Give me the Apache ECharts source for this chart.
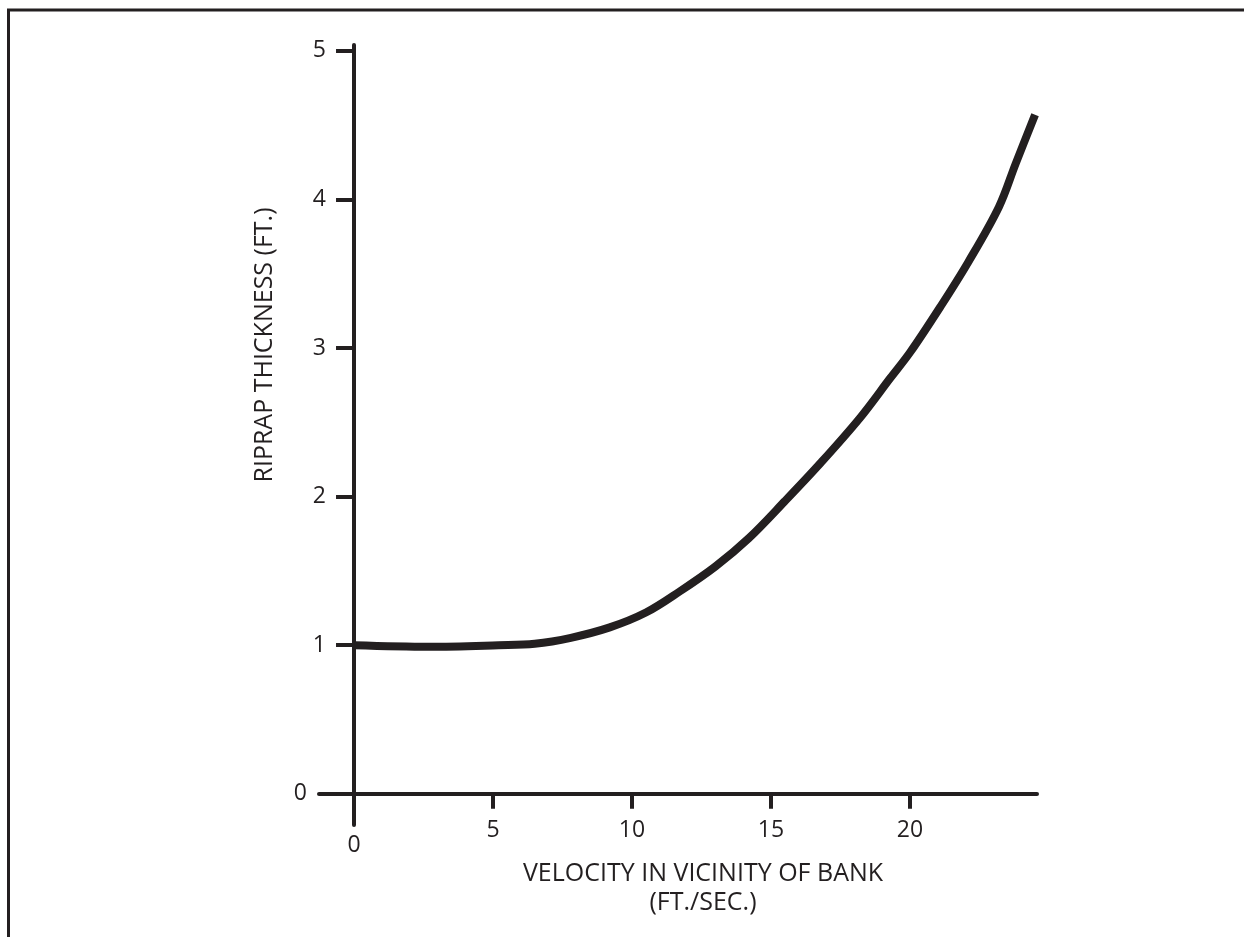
<!DOCTYPE html>
<html>
<head>
<meta charset="utf-8">
<title>Riprap thickness</title>
<script src="https://cdn.jsdelivr.net/npm/echarts@6/dist/echarts.min.js"></script>
<style>
    html, body { margin: 0; padding: 0; background: #fff; }
    #chart { width: 1244px; height: 937px; }
</style>
</head>
<body>
<div id="chart"></div>
<script>
// values
var velocity = [0, 2.7, 5.2, 6.5, 7.8, 9.2, 10.5, 11.7, 13.0, 14.2, 15.5, 16.8, 18.2, 19.3, 20.0, 21.1, 22.1, 23.2, 23.8, 24.5];
var thickness = [1.0, 0.99, 1.0, 1.01, 1.05, 1.12, 1.22, 1.36, 1.53, 1.72, 1.97, 2.23, 2.53, 2.8, 2.97, 3.28, 3.58, 3.95, 4.24, 4.57];
var xTicks = [0, 5, 10, 15, 20];
var yTicks = [0, 1, 2, 3, 4, 5];

var ink = '#231f20';
var font = '"Open Sans", Lato, sans-serif';

var points = [];
for (var i = 0; i < velocity.length; ++i) {
    points.push([velocity[i], thickness[i]]);
}

var chart = echarts.init(document.getElementById('chart'));
var option = {
    animation: false,
    grid: { left: 319, right: 207, top: 45, bottom: 112 },
    xAxis: {
        type: 'value',
        min: -1.26,
        max: 24.57,
        splitLine: { show: false },
        axisLine: { onZero: true, lineStyle: { color: ink, width: 4 } },
        axisTick: {
            customValues: [5, 10, 15, 20],
            length: 15,
            lineStyle: { color: ink, width: 4 }
        },
        axisLabel: {
            customValues: xTicks,
            margin: -6,
            color: ink,
            fontFamily: font,
            fontSize: 23,
            formatter: function (v) {
                return v === 0 ? '{z|0}' : String(v);
            },
            rich: { z: { padding: [15, 0, 0, 0], fontFamily: font, fontSize: 23, color: ink } }
        }
    },
    yAxis: {
        type: 'value',
        min: -0.21,
        max: 5.04,
        splitLine: { show: false },
        axisLine: { onZero: true, lineStyle: { color: ink, width: 4 } },
        axisTick: {
            customValues: yTicks,
            length: 18,
            lineStyle: { color: ink, width: 4 }
        },
        axisLabel: {
            customValues: yTicks,
            margin: -7,
            color: ink,
            fontFamily: font,
            fontSize: 23,
            formatter: function (v) {
                return v === 0 ? '{z|0}' : String(v);
            },
            rich: { z: { padding: [0, 19, 0, 0], fontFamily: font, fontSize: 23, color: ink } }
        }
    },
    graphic: [
        { type: 'line', shape: { x1: 7, y1: 10, x2: 1244, y2: 10 }, style: { stroke: ink, lineWidth: 3 } },
        { type: 'line', shape: { x1: 8.5, y1: 9, x2: 8.5, y2: 937 }, style: { stroke: ink, lineWidth: 3 } },
        {
            type: 'text', x: 265, y: 345, rotation: Math.PI / 2,
            style: { text: 'RIPRAP THICKNESS (FT.)', fill: ink, font: '25px ' + font, textAlign: 'center', textVerticalAlign: 'middle' }
        },
        {
            type: 'text', x: 703, y: 874,
            style: { text: 'VELOCITY IN VICINITY OF BANK', fill: ink, font: '25px ' + font, textAlign: 'center', textVerticalAlign: 'middle' }
        },
        {
            type: 'text', x: 703, y: 903,
            style: { text: '(FT./SEC.)', fill: ink, font: '25px ' + font, textAlign: 'center', textVerticalAlign: 'middle' }
        }
    ],
    series: [{
        type: 'line',
        data: points,
        smooth: 0.35,
        symbol: 'none',
        lineStyle: { color: ink, width: 8, cap: 'butt' }
    }]
};
chart.setOption(option);
</script>
</body>
</html>
